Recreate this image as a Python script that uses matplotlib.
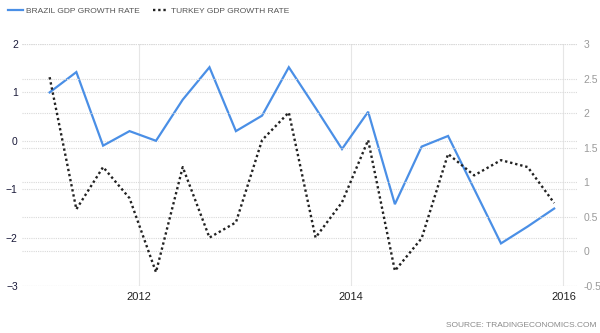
import matplotlib
matplotlib.use('Agg')
import matplotlib.pyplot as plt
import pandas as pd

plt.rcParams['font.family'] = ['Liberation Sans', 'DejaVu Sans']

# quarterly GDP growth, Q1 2011 .. Q4 2015
quarters = pd.period_range('2011Q1', '2015Q4', freq='Q')
brazil = [1.0, 1.42, -0.1, 0.2, 0.0, 0.85, 1.52, 0.2, 0.52, 1.52,
          0.68, -0.17, 0.6, -1.31, -0.12, 0.1, -1.0, -2.12, -1.77, -1.4]
turkey = [2.52, 0.61, 1.22, 0.77, -0.3, 1.22, 0.2, 0.42, 1.61, 2.01,
          0.2, 0.71, 1.61, -0.28, 0.19, 1.41, 1.1, 1.32, 1.22, 0.7]

left_ticks = [2, 1, 0, -1, -2, -3]
right_ticks = [3, 2.5, 2, 1.5, 1, 0.5, 0, -0.5]
year_ticks = ['2012', '2014', '2016']

# each quarter sits at the end of its middle month
x = quarters.to_timestamp(how='start') + pd.DateOffset(months=2) - pd.Timedelta(days=1)

fig = plt.figure(figsize=(6, 3.33), dpi=100)
ax = fig.add_axes([22 / 600, 1 - 286 / 333, (578 - 22) / 600, 242 / 333])
ax2 = ax.twinx()

grid_col = '#d9d9d9'
ax.set_ylim(-3, 2)
ax2.set_ylim(-0.5, 3)
ax.set_yticks(left_ticks)
ax2.set_yticks(right_ticks)
ax2.set_yticklabels(['3', '2.5', '2', '1.5', '1', '0.5', '0', '-0.5'])
ax.set_xlim(pd.Timestamp('2010-11-25'), pd.Timestamp('2016-02-20'))
ax.set_xticks([pd.Timestamp(y + '-01-01') for y in year_ticks])
ax.set_xticklabels(year_ticks)

ax.grid(axis='y', color=grid_col, linestyle=(0, (1, 1)), linewidth=0.8)
ax2.grid(axis='y', color=grid_col, linestyle=(0, (1, 1)), linewidth=0.8)
ax.grid(axis='x', color='#e6e6e6', linestyle='-', linewidth=0.8)
ax.set_axisbelow(True)
ax2.set_axisbelow(True)

for a in (ax, ax2):
    for s in a.spines.values():
        s.set_visible(False)

ax.tick_params(axis='y', length=0, pad=3, labelsize=7.5, labelcolor='#1a1a3a')
ax.tick_params(axis='x', length=0, pad=4, labelsize=8, labelcolor='#222222')
ax2.tick_params(axis='y', length=0, pad=4, labelsize=7.5, labelcolor='#9a9a9a')

l1, = ax.plot(x, brazil, color='#4a8fe6', linewidth=1.6, solid_joinstyle='miter')
l2, = ax2.plot(x, turkey, color='#222222', linewidth=1.7, linestyle=(0, (1, 1.2)))

fig.legend([l1, l2], ['BRAZIL GDP GROWTH RATE', 'TURKEY GDP GROWTH RATE'],
           loc='upper left', bbox_to_anchor=(0.0, 1.0), ncol=2, frameon=False,
           fontsize=6, handlelength=1.8, handletextpad=0.4, columnspacing=1.6,
           labelcolor='#555555')

fig.text(0.995, 0.012, 'SOURCE: TRADINGECONOMICS.COM', ha='right', va='bottom',
         fontsize=6, color='#8a8a8a')

fig.savefig('out.png', dpi=100)
